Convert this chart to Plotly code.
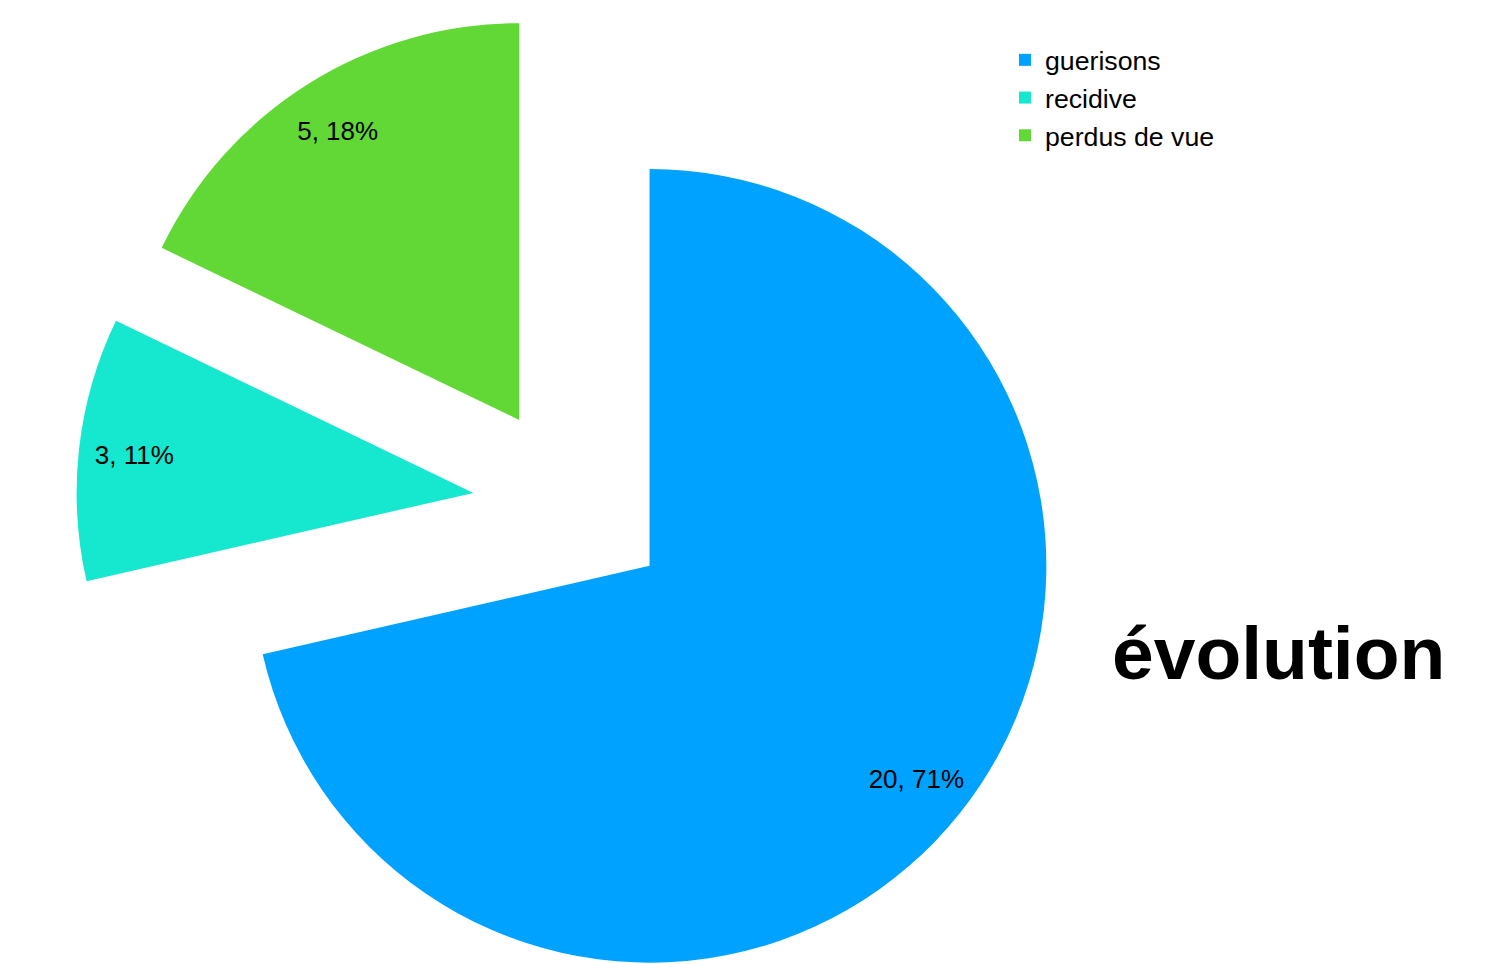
import plotly.graph_objects as go

labels = ["guerisons", "recidive", "perdus de vue"]
values = [20, 3, 5]
colors = ["#00A2FF", "#16E7CF", "#61D836"]
pulls = [0.25, 0.25, 0.25]
title_text = "évolution"

W, H = 1488, 992
cx = 564
dom = dict(x=[(cx - H / 2) / W, (cx + H / 2) / W], y=[0, 1])
FONT = "Liberation Sans, Arial, sans-serif"

fig = go.Figure()
# slices
fig.add_trace(go.Pie(
    labels=labels,
    values=values,
    marker=dict(colors=colors, line=dict(width=0)),
    pull=pulls,
    sort=False,
    direction="clockwise",
    rotation=0,
    textinfo="none",
    domain=dom,
    hoverinfo="label+value+percent",
))
# value labels placed by plotly in the outer ring of the same slices
fig.add_trace(go.Pie(
    labels=labels,
    values=values,
    marker=dict(colors=["rgba(0,0,0,0)"] * len(values), line=dict(width=0)),
    pull=pulls,
    hole=0.72,
    sort=False,
    direction="clockwise",
    rotation=0,
    texttemplate="%{value}, %{percent:.0%}",
    textposition="inside",
    insidetextorientation="horizontal",
    textfont=dict(family=FONT, size=26, color="black"),
    domain=dom,
    showlegend=False,
    hoverinfo="skip",
))

fig.update_layout(
    width=W,
    height=H,
    margin=dict(l=0, r=0, t=0, b=0),
    paper_bgcolor="white",
    plot_bgcolor="white",
    font=dict(family=FONT, color="black"),
    showlegend=True,
    legend=dict(
        x=997 / W, y=1 - 28 / H, xanchor="left", yanchor="top",
        font=dict(size=26.7, color="black"),
        bgcolor="rgba(0,0,0,0)",
    ),
    annotations=[dict(
        text="<b>" + title_text + "</b>",
        x=1270 / W, y=1 - 645 / H, xref="paper", yref="paper",
        xanchor="center", yanchor="middle", showarrow=False,
        font=dict(size=75, color="black", family=FONT),
    )],
)

fig.write_html("out.html")
